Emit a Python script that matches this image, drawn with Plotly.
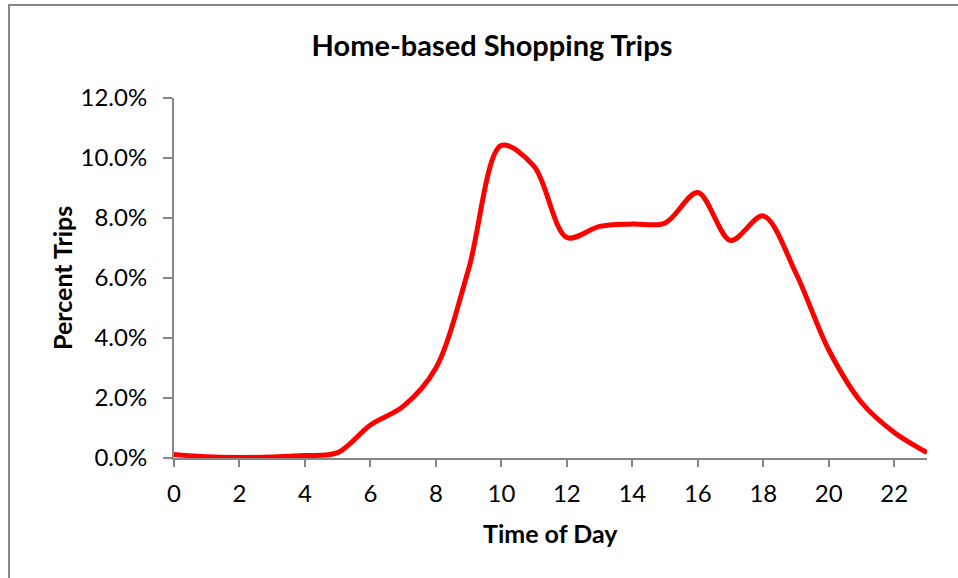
import plotly.graph_objects as go

hours = list(range(24))
pct_trips = [0.0012, 0.0004, 0.0002, 0.0003, 0.0008, 0.0018, 0.011, 0.0172,
             0.030, 0.063, 0.1042, 0.0972, 0.0735, 0.0772, 0.078, 0.0783,
             0.0885, 0.0725, 0.0807, 0.0615, 0.036, 0.0185, 0.0085, 0.0018]
x_ticks = list(range(0, 23, 2))
y_ticks = [0, 0.02, 0.04, 0.06, 0.08, 0.10, 0.12]

FONT = "Lato"
GRAY = "#868686"

fig = go.Figure()
fig.add_trace(go.Scatter(
    x=hours, y=pct_trips, mode="lines",
    line=dict(color="#FF0000", width=5, shape="spline", smoothing=0.9),
    showlegend=False, hoverinfo="skip"))

W, H = 958, 578
L, R, T, B = 174, 927, 98, 458

fig.update_layout(
    width=W, height=H,
    margin=dict(l=L, r=W - R, t=T, b=H - B),
    paper_bgcolor="white", plot_bgcolor="white",
    font=dict(family=FONT, color="black"),
    title=dict(text="<b>Home-based Shopping Trips</b>", x=492 / W, xref="container",
               xanchor="center", y=1 - 46 / H, yref="container", yanchor="middle",
               font=dict(family=FONT, size=29, color="black")),
    xaxis=dict(range=[0, 23], tickvals=x_ticks, ticks="outside", ticklen=7,
               tickcolor=GRAY, tickwidth=2, showline=True, linecolor=GRAY, linewidth=2,
               showgrid=False, zeroline=False, tickfont=dict(family=FONT, size=24),
               ticklabelstandoff=6),
    yaxis=dict(range=[0, 0.12], tickvals=y_ticks, tickformat=".1%", ticks="outside",
               ticklen=9, tickcolor=GRAY, tickwidth=2, showline=True, linecolor=GRAY,
               linewidth=2, showgrid=False, zeroline=False,
               tickfont=dict(family=FONT, size=24), ticklabelstandoff=11),
    annotations=[
        dict(text="<b>Time of Day</b>", xref="paper", yref="paper",
             x=(550 - L) / (R - L), y=-(533 - B) / (B - T), xanchor="center",
             yanchor="middle", showarrow=False, font=dict(family=FONT, size=25)),
        dict(text="<b>Percent Trips</b>", xref="paper", yref="paper",
             x=-(L - 62) / (R - L), y=(B - 278) / (B - T), xanchor="center",
             yanchor="middle", textangle=-90, showarrow=False,
             font=dict(family=FONT, size=25)),
    ],
    shapes=[dict(type="rect", xref="paper", yref="paper",
                 x0=-(L - 9) / (R - L), x1=2, y0=-2, y1=(B - 5) / (B - T),
                 line=dict(color=GRAY, width=2), fillcolor="rgba(0,0,0,0)",
                 layer="below")],
)

fig.write_html("out.html", config={"displayModeBar": False},
               post_script="document.body.style.margin='0';document.body.style.overflow='hidden';")
